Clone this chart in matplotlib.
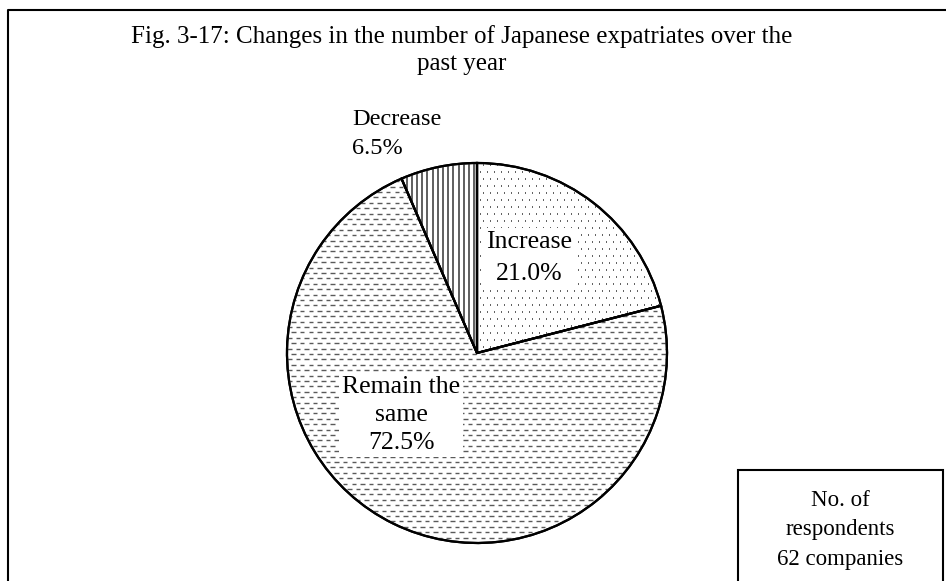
import numpy as np
import matplotlib
matplotlib.use("Agg")
import matplotlib.pyplot as plt
from matplotlib.collections import LineCollection
from matplotlib.patches import Rectangle, PathPatch

plt.rcParams["font.family"] = ["Liberation Serif", "DejaVu Serif"]

title = "Fig. 3-17: Changes in the number of Japanese expatriates over the\npast year"
categories = ["Increase", "Remain the\nsame", "Decrease"]
shares = [21.0, 72.5, 6.5]
note = "No. of\nrespondents\n62 companies"

W, H = 946, 581
fig = plt.figure(figsize=(W / 100, H / 100), dpi=100)
ax = fig.add_axes([0, 0, 1, 1])

cx, cy, r = 477, H - 353, 190
wedges, _ = ax.pie(shares, startangle=90, counterclock=False,
                   center=(cx, cy), radius=r, frame=True,
                   colors=["white"] * 3,
                   wedgeprops=dict(edgecolor="black", linewidth=1.6))
ax.set_xlim(0, W)
ax.set_ylim(0, H)
ax.set_aspect("equal")
ax.axis("off")

# outer frame (only left and top visible in the reference)
ax.plot([8, 8, W + 5], [-5, H - 10, H - 10], color="black", lw=1.5)


def texture(wedge, kind):
    # fill patterns drawn as clipped line collections
    x0, x1, y0, y1 = cx - r, cx + r, cy - r, cy + r
    segs = []
    if kind == "dots":
        sp = 7.0
        for i, y in enumerate(np.arange(y0, y1, sp)):
            off = 0 if i % 2 == 0 else sp / 2
            for x in np.arange(x0 + off, x1, sp):
                segs.append([(x, y), (x + 1.0, y)])
        lw, col = 1.2, "#444444"
    elif kind == "dashes":
        sp = 5.4
        for i, y in enumerate(np.arange(y0, y1, sp)):
            off = 0 if i % 2 == 0 else 4.3
            for x in np.arange(x0 + off, x1, 8.6):
                segs.append([(x, y), (x + 4.5, y)])
        lw, col = 1.0, "#5a5a5a"
    else:
        for x in np.arange(x0, x1, 5.2):
            segs.append([(x, y0), (x, y1)])
        lw, col = 1.2, "#444444"
    lc = LineCollection(segs, colors=col, linewidths=lw, zorder=2)
    ax.add_collection(lc)
    lc.set_clip_path(wedge)


for w, kind in zip(wedges, ["dots", "dashes", "vlines"]):
    texture(w, kind)
    w.set_zorder(1)
    outline = PathPatch(w.get_path().transformed(w.get_patch_transform()),
                        fill=False, edgecolor="black", lw=1.6, zorder=3)
    ax.add_patch(outline)

box = dict(facecolor="white", edgecolor="none", pad=2)
fs = 18.5
ax.text(529, H - 258, f"{categories[0]}\n{shares[0]:.1f}%", ha="center", va="center",
        fontsize=fs, linespacing=1.55, bbox=box, zorder=5)
ax.text(401, H - 415, f"{categories[1]}\n{shares[1]:.1f}%", ha="center", va="center",
        fontsize=fs, linespacing=1.35, bbox=box, zorder=5)
ax.text(352, H - 134, f"{categories[2]}\n{shares[2]:.1f}%", ha="left", va="center",
        fontsize=17.5, linespacing=1.55, zorder=5)

ax.text(462, H - 50, title, ha="center", va="center", fontsize=18, linespacing=1.25)

ax.add_patch(Rectangle((738, -10), 205, H - 470 + 10, facecolor="white",
                       edgecolor="black", lw=1.5, zorder=5))
ax.text(840, H - 530, note, ha="center", va="center", fontsize=16.5,
        linespacing=1.55, zorder=6)

fig.savefig("out.png", dpi=100)
